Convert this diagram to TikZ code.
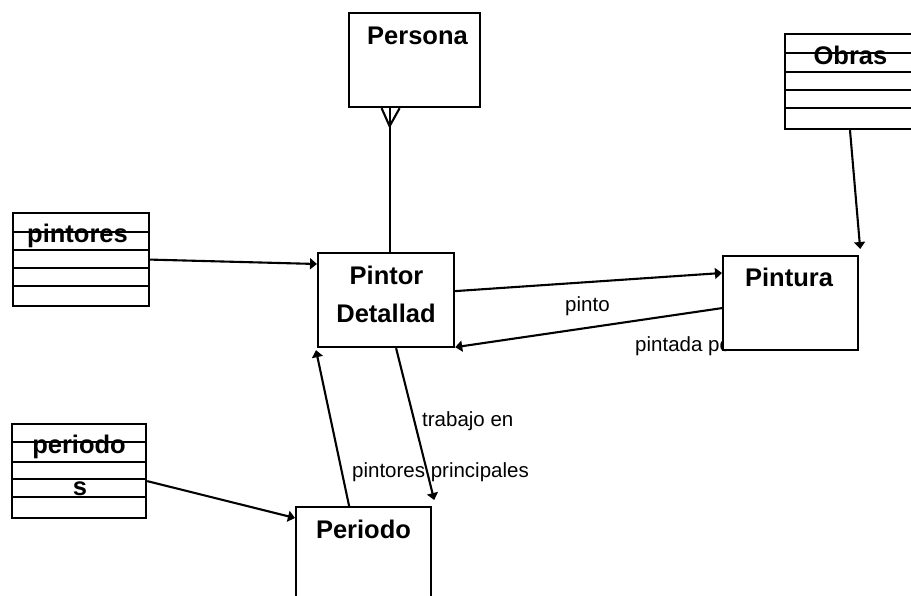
\documentclass[tikz,border=0pt]{standalone}
\usepackage{fontspec}
\setmainfont{Liberation Sans}
\usetikzlibrary{arrows.meta,calc}
\begin{document}
\begin{tikzpicture}[x=1pt,y=-1pt,
  entity/.style={draw,line width=2.2pt,fill=white,inner sep=0pt,anchor=north west},
  title/.style={font=\bfseries\fontsize{25.5}{28}\selectfont,inner sep=0pt,anchor=base},
  lbl/.style={font=\fontsize{20.5}{24}\selectfont,inner sep=0pt,anchor=base west},
  link/.style={line width=2.1pt,-{Triangle[width=11pt,length=7pt]}},
  plain/.style={line width=2.1pt},
  rowline/.style={line width=2pt}]
\useasboundingbox (0,0) rectangle (911,596);
\clip (0,0) rectangle (911,596);

% relationship labels (the one beside Pintura sits under its box)
\node[lbl] (lpinto) at (565,312) {pinto};
\node[lbl] (lpintada) at (635,352) {pintada por};
\node[lbl] (ltrabajo) at (422,426) {trabajo en};
\node[lbl] (lprincipales) at (352,477) {pintores principales};

% entity boxes
\node[entity, minimum width=131pt, minimum height=94pt] (persona) at (348,12) {};
\node[entity, minimum width=136pt, minimum height=94pt] (pintor) at (317,252) {};
\node[entity, minimum width=135pt, minimum height=94pt] (pintura) at (722,255) {};
\node[entity, minimum width=135pt, minimum height=120pt] (periodo) at (295,506) {};

% table boxes
\node[entity, minimum width=160pt, minimum height=95pt] (obras) at (784,33) {};
\node[entity, minimum width=136pt, minimum height=93pt] (pintores) at (12,212) {};
\node[entity, minimum width=134pt, minimum height=94pt] (periodos) at (11,423) {};

% table rows
\foreach \yy in {53,72,90,108}
  \draw[rowline] (obras.west |- 0,\yy) -- (obras.east |- 0,\yy);
\foreach \yy in {232,250,268,286}
  \draw[rowline] (pintores.west |- 0,\yy) -- (pintores.east |- 0,\yy);
\foreach \yy in {442,462,479,497}
  \draw[rowline] (periodos.west |- 0,\yy) -- (periodos.east |- 0,\yy);

% titles
\node[title] (tpersona) at (417.5,45) {Persona};
\node[title] (tpintor) at (386.5,285) {Pintor};
\node[title] (tdetallad) at (386,323) {Detallad};
\node[title] (tpintura) at (789,287) {Pintura};
\node[title] (tperiodo) at (363.5,538) {Periodo};
\node[title] (tobras) at (850.5,65) {Obras};
\node[title] (tpintores) at (77.5,243) {pintores};
\node[title] (tperiodos) at (79,453) {periodo};
\node[title] (tperiodoss) at (80,495) {s};

% Persona -- Pintor Detallad, many end at Persona
\coordinate (cf) at ([xshift=-25pt,yshift=-18pt]persona.south);
\draw[plain] ([xshift=-33pt]persona.south) -- (cf) -- ([xshift=-15pt]persona.south);
\draw[plain] ([xshift=-25pt]persona.south) -- ([xshift=-25pt]persona.south |- pintor.north);

% connectors
\draw[link] (pintores.east) -- ([yshift=-12pt]pintor.north west);
\draw[link] ([yshift=9pt]pintor.east) -- ([yshift=-18pt]pintura.north west);
\draw[link] ([yshift=-5pt]pintura.west) -- ([yshift=1pt]pintor.south east);
\draw[link] ([xshift=-14.5pt]periodo.north) -- ([xshift=-1pt,yshift=-2pt]pintor.south west);
\draw[link] ([xshift=10pt]pintor.south) -- ([xshift=2pt,yshift=6pt]periodo.north east);
\draw[link] ([yshift=-10pt]periodos.east) -- ([yshift=-12pt]periodo.north west);
\draw[link] ([xshift=66pt]obras.south west) -- ([xshift=1pt,yshift=6pt]pintura.north east);
\end{tikzpicture}
\end{document}
